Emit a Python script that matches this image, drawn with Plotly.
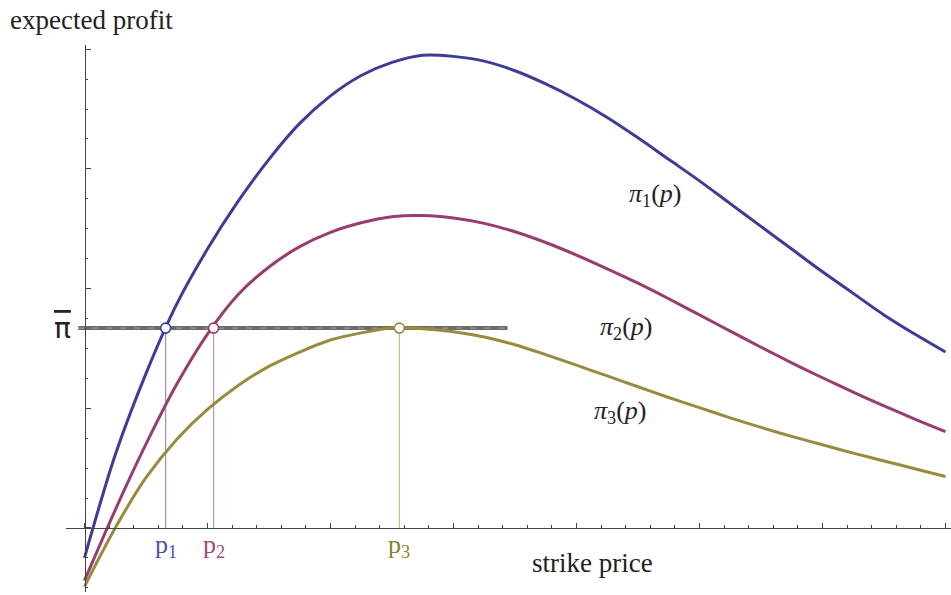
import plotly.graph_objects as go

# ---------------- data (units: major x tick = 1, major y tick = 1) ----------------
x_grid = [0.0, 0.25, 0.5, 0.75, 1.0, 1.25, 1.5, 1.75, 2.0, 2.25, 2.5, 2.75, 3.0, 3.25, 3.5, 3.75,
          4.0, 4.25, 4.5, 4.75, 5.0, 5.25, 5.5, 5.75, 6.0, 6.25, 6.5, 6.75, 7.0]
y1 = [-0.25, 0.61, 1.29, 1.87, 2.33, 2.73, 3.08, 3.38, 3.61, 3.78, 3.89, 3.95, 3.94, 3.90, 3.82, 3.71,
      3.58, 3.43, 3.26, 3.08, 2.90, 2.71, 2.52, 2.33, 2.14, 1.96, 1.78, 1.62, 1.47]
y2 = [-0.44, 0.15, 0.70, 1.20, 1.62, 1.95, 2.18, 2.35, 2.47, 2.55, 2.60, 2.61, 2.59, 2.545, 2.475, 2.385,
      2.28, 2.165, 2.045, 1.915, 1.78, 1.645, 1.51, 1.38, 1.255, 1.135, 1.02, 0.91, 0.805]
y3 = [-0.49, 0.0, 0.42, 0.74, 0.99, 1.19, 1.35, 1.47, 1.57, 1.63, 1.67, 1.665, 1.64, 1.595, 1.531, 1.448,
      1.36, 1.27, 1.18, 1.09, 1.005, 0.92, 0.84, 0.765, 0.695, 0.625, 0.56, 0.495, 0.43]

pi_bar = 1.67
pi_bar_x = [-0.05, 3.44]
p_points = [0.66, 1.05, 2.56]
p_labels = ["p<sub>1</sub>", "p<sub>2</sub>", "p<sub>3</sub>"]
curve_labels = ["<i>π</i><sub>1</sub>(<i>p</i>)", "<i>π</i><sub>2</sub>(<i>p</i>)", "<i>π</i><sub>3</sub>(<i>p</i>)"]
curve_label_x = [4.64, 4.40, 4.35]
curve_label_y = [2.78, 1.67, 0.97]

# ---------------- styles ----------------
curve_colors = ["#3d3d99", "#993d71", "#998b3d"]
light_colors = ["#8f8fd0", "#d08fb4", "#c9bd84"]
label_colors = ["#5050b0", "#a5457c", "#8c7e30"]
axis_color = "#444444"
serif = "Liberation Serif, Times New Roman, serif"

fig = go.Figure()

# vertical drop lines
for p, c in zip(p_points, light_colors):
    fig.add_trace(go.Scatter(x=[p, p], y=[0, pi_bar], mode="lines",
                             line=dict(color=c, width=1.2), hoverinfo="skip"))

# pi-bar line
fig.add_trace(go.Scatter(x=pi_bar_x, y=[pi_bar, pi_bar], mode="lines",
                         line=dict(color="#6a6a6a", width=4), hoverinfo="skip"))
fig.add_trace(go.Scatter(x=pi_bar_x, y=[pi_bar, pi_bar], mode="lines",
                         line=dict(color="#a8a8a8", width=1, dash="6px,8px"), hoverinfo="skip"))

# curves
for ys, c in zip([y1, y2, y3], curve_colors):
    fig.add_trace(go.Scatter(x=x_grid, y=ys, mode="lines",
                             line=dict(color=c, width=3, shape="spline", smoothing=0.9),
                             hoverinfo="skip"))

# intersection markers
for p, c in zip(p_points, curve_colors):
    fig.add_trace(go.Scatter(x=[p], y=[pi_bar], mode="markers",
                             marker=dict(size=10, color="white", line=dict(color=c, width=1.6)),
                             hoverinfo="skip"))

annotations = []
# p labels
for p, t, c in zip(p_points, p_labels, label_colors):
    annotations.append(dict(x=p, y=-0.15, xref="x", yref="y", text=t, showarrow=False,
                            font=dict(family=serif, size=26, color=c), xanchor="center", yanchor="middle"))
# curve labels
for lx, ly, t in zip(curve_label_x, curve_label_y, curve_labels):
    annotations.append(dict(x=lx, y=ly, xref="x", yref="y", text=t, showarrow=False,
                            font=dict(family=serif, size=26, color="#222222"), xanchor="center", yanchor="middle"))
# pi-bar label
annotations.append(dict(x=62 / 951, y=pi_bar, xref="paper", yref="y",
                        text='<span style="text-decoration:overline">π</span>', showarrow=False,
                        font=dict(family="DejaVu Sans, sans-serif", size=28, color="#222222"),
                        xanchor="center", yanchor="middle"))
# axis titles
annotations.append(dict(x=91 / 951, y=1 - 20 / 595, xref="paper", yref="paper", text="expected profit",
                        showarrow=False, font=dict(family=serif, size=27, color="#222222"),
                        xanchor="center", yanchor="middle"))
annotations.append(dict(x=592 / 951, y=(595 - 563) / 595, xref="paper", yref="paper", text="strike price",
                        showarrow=False, font=dict(family=serif, size=27, color="#222222"),
                        xanchor="center", yanchor="middle"))

fig.update_layout(
    width=951, height=595,
    margin=dict(l=0, r=0, t=0, b=0),
    paper_bgcolor="white", plot_bgcolor="white",
    showlegend=False,
    annotations=annotations,
    xaxis=dict(domain=[66 / 951, 1], range=[-0.150, 7.045], anchor="free", position=67 / 595,
               showline=True, linecolor=axis_color, linewidth=1.2,
               ticks="inside", ticklen=5, tickwidth=1, tickcolor=axis_color, tick0=0, dtick=1,
               minor=dict(ticks="inside", ticklen=2.5, tickwidth=1, tickcolor=axis_color, tick0=0, dtick=0.2, showgrid=False),
               showgrid=False, zeroline=False, showticklabels=False, fixedrange=True),
    yaxis=dict(domain=[3 / 595, 550 / 595], range=[-0.535, 4.035], anchor="free", position=84.5 / 951,
               showline=True, linecolor=axis_color, linewidth=1.2,
               ticks="inside", ticklen=5, tickwidth=1, tickcolor=axis_color, tick0=0, dtick=1,
               minor=dict(ticks="inside", ticklen=2.5, tickwidth=1, tickcolor=axis_color, tick0=0, dtick=0.25, showgrid=False),
               showgrid=False, zeroline=False, showticklabels=False, fixedrange=True),
)

fig.write_html("out.html", config={"displayModeBar": False},
               post_script="document.body.style.margin='0';")
